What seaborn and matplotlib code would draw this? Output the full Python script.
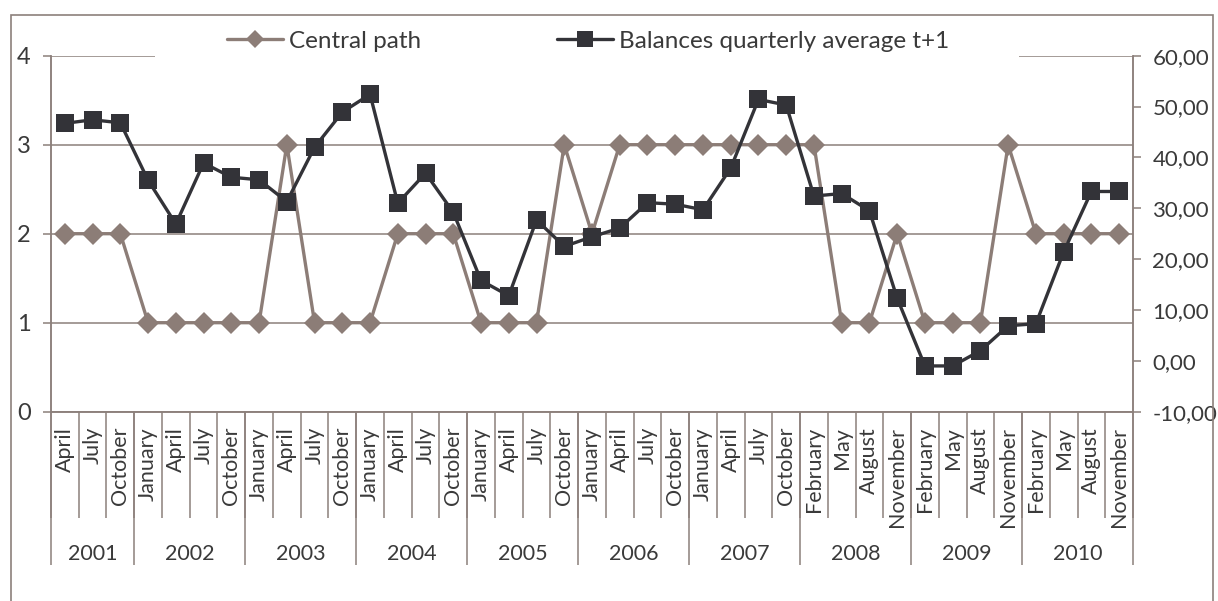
import numpy as np
import pandas as pd
import matplotlib
matplotlib.use("Agg")
import matplotlib.pyplot as plt
from matplotlib.patches import Rectangle
from matplotlib.ticker import FuncFormatter
import seaborn as sns

# ---- data ----
years = ["2001", "2002", "2003", "2004", "2005", "2006", "2007", "2008", "2009", "2010"]
year_sizes = [3, 4, 4, 4, 4, 4, 4, 4, 4, 4]
months = (["April", "July", "October"]
          + ["January", "April", "July", "October"] * 6
          + ["February", "May", "August", "November"] * 3)
central_path = [2, 2, 2,
                1, 1, 1, 1,
                1, 3, 1, 1,
                1, 2, 2, 2,
                1, 1, 1, 3,
                2, 3, 3, 3,
                3, 3, 3, 3,
                3, 1, 1, 2,
                1, 1, 1, 3,
                2, 2, 2, 2]
balances = [46.7, 47.4, 46.8,
            35.5, 26.9, 38.9, 36.1,
            35.6, 31.3, 42.0, 48.9,
            52.4, 31.0, 36.9, 29.2,
            15.8, 12.8, 27.7, 22.5,
            24.4, 26.1, 31.1, 30.8,
            29.7, 37.9, 51.4, 50.3,
            32.4, 32.9, 29.5, 12.3,
            -1.0, -1.0, 2.0, 6.9,
            7.3, 21.4, 33.3, 33.3]
series_names = ["Central path", "Balances quarterly average t+1"]

df = pd.DataFrame({"pos": np.arange(len(months)), "month": months,
                   "central": central_path, "balance": balances})

# ---- style ----
sns.set_style("white")
plt.rcParams["font.family"] = ["Lato", "DejaVu Sans"]
TXT = "#3a3a3a"
GRID = "#8c807b"
C1 = "#8c7d77"
C2 = "#333338"

fig = plt.figure(figsize=(12.18, 6.01), dpi=100)
ax = fig.add_axes([51 / 1218, 1 - 411.7 / 601, (1133 - 51) / 1218, (411.7 - 55.7) / 601])
ax2 = ax.twinx()

# outer chart frame
fig.patches.append(Rectangle((11 / 1218, -0.02), (1213 - 11) / 1218, 1.02 - 15 / 601,
                             transform=fig.transFigure, fill=False,
                             edgecolor=GRID, linewidth=1.2, zorder=0))

sns.lineplot(data=df, x="pos", y="central", ax=ax, color=C1, linewidth=2.4,
             marker="D", markersize=11, markeredgewidth=0, label=series_names[0],
             legend=False, zorder=3)
sns.lineplot(data=df, x="pos", y="balance", ax=ax2, color=C2, linewidth=2.4,
             marker="s", markersize=13.5, markeredgewidth=0, label=series_names[1],
             legend=False, zorder=3)

n = len(months)
ax.set_xlim(-0.5, n - 0.5)
ax.set_ylim(0, 4)
ax.set_yticks([0, 1, 2, 3, 4])
ax2.set_ylim(-10, 60)
ax2.set_yticks(np.arange(-10, 61, 10))
ax2.yaxis.set_major_formatter(FuncFormatter(lambda v, p: f"{v:.2f}".replace(".", ",")))

ax.set_xlabel("")
ax.set_ylabel("")
ax2.set_xlabel("")
ax2.set_ylabel("")

ax.yaxis.grid(True, color=GRID, linewidth=1.1)
ax.xaxis.grid(False)
ax2.grid(False)

for a in (ax, ax2):
    for s in a.spines.values():
        s.set_color(GRID)
        s.set_linewidth(1.1)
    a.spines["top"].set_visible(False)

ax.tick_params(axis="y", which="major", direction="out", length=5.5, width=1.1,
               color=GRID, labelsize=17, labelcolor=TXT, pad=9, left=True)
ax2.tick_params(axis="y", which="major", direction="out", length=5.5, width=1.1,
                color=GRID, labelsize=16, labelcolor=TXT, pad=8.5, right=True)

# month labels at centers, separators at boundaries
bounds = np.arange(n + 1) - 0.5
ax.set_xticks(df["pos"])
ax.set_xticklabels(months, rotation=90, va="top", ha="center")
ax.set_xticks(bounds, minor=True)
ax.tick_params(axis="x", which="major", length=0, labelsize=15.5, labelcolor=TXT, pad=11)
ax.tick_params(axis="x", which="minor", length=76.5, width=1.1, color=GRID,
               direction="out", bottom=True)
ax2.tick_params(axis="x", which="both", length=0, labelbottom=False)

# year grouping via secondary axis
ybounds = np.concatenate([[0], np.cumsum(year_sizes)]) - 0.5
ycent = (ybounds[:-1] + ybounds[1:]) / 2
sec = ax.secondary_xaxis("bottom")
sec.spines["bottom"].set_visible(False)
sec.set_xticks(ybounds)
sec.set_xticklabels([""] * len(ybounds))
sec.set_xticks(ycent, minor=True)
sec.set_xticklabels(years, minor=True)
sec.tick_params(axis="x", which="major", length=110, width=1.1, color=GRID, direction="out")
sec.tick_params(axis="x", which="minor", length=0, labelsize=15.5, labelcolor=TXT, pad=95)

# legend on white band
l1 = ax.get_lines()[0]
l2 = ax2.get_lines()[0]
ax2.add_patch(Rectangle((155 / 1218, 1 - 64 / 601), (1019 - 155) / 1218, 40 / 601,
                        transform=fig.transFigure, facecolor="white", edgecolor="none",
                        clip_on=False, zorder=4))
leg = ax2.legend([l1, l2], series_names, loc="center", ncol=2, frameon=False,
                 bbox_to_anchor=(588 / 1218, 1 - 41 / 601), bbox_transform=fig.transFigure,
                 fontsize=17.5, handlelength=2.3, handletextpad=0.25, columnspacing=5.6,
                 labelcolor=TXT, markerscale=0.85)
leg.set_zorder(6)

fig.savefig("out.png", dpi=100, facecolor="white")
